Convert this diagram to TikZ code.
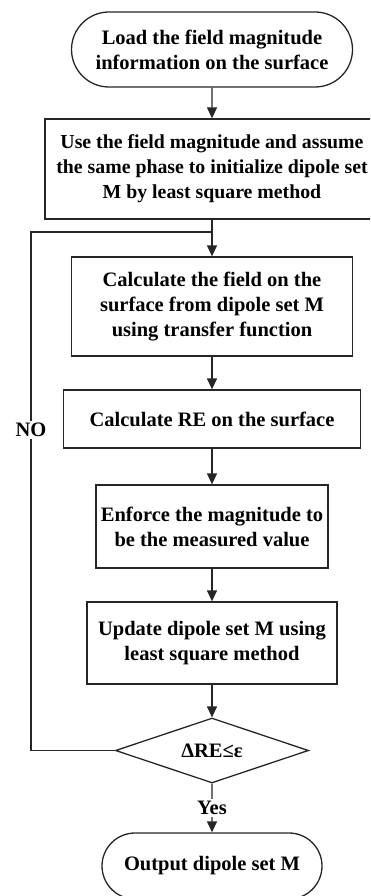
\documentclass[tikz,border=0pt]{standalone}
\usepackage{fontspec}
\setmainfont{Liberation Serif}
\usetikzlibrary{shapes.geometric,shapes.misc,arrows.meta}
\begin{document}
\begin{tikzpicture}[x=1pt,y=-1pt,
  every node/.style={font=\bfseries\fontsize{20.5}{25}\selectfont, align=center, inner sep=0pt, text=black},
  proc/.style={draw=black!85, rectangle, line width=1.3pt},
  term/.style={draw=black!85, rounded rectangle, line width=1.3pt},
  dec/.style={draw=black!85, diamond, aspect=3, line width=1.3pt},
  arr/.style={draw=black!85, line width=1.3pt, -{Triangle[length=11pt,width=10pt]}},
  ln/.style={draw=black!85, line width=1.3pt},
  lbl/.style={fill=white, inner sep=2pt}]
\useasboundingbox (0,0) rectangle (370,896);
\clip (0,0) rectangle (370,896);
\node[term, minimum width=281pt, minimum height=75pt] (start) at (212,49.5) {Load the field magnitude\\information on the surface};
\node[proc, minimum width=334pt, minimum height=100pt, font=\bfseries\fontsize{19.8}{25}\selectfont] (init) at (212,169) {Use the field magnitude and assume\\the same phase to initialize dipole set\\M by least square method};
\node[proc, minimum width=281pt, minimum height=99pt] (calc) at (212,306.5) {Calculate the field on the\\surface from dipole set M\\using transfer function};
\node[proc, minimum width=297pt, minimum height=58pt] (re) at (212,419) {Calculate RE on the surface};
\node[proc, minimum width=232pt, minimum height=83pt] (enf) at (212,526.5) {Enforce the magnitude to\\be the measured value};
\node[proc, minimum width=250pt, minimum height=82pt] (upd) at (212,643) {Update dipole set M using\\least square method};
\node[dec, minimum width=193pt, minimum height=65pt] (dia) at (212,750.5) {ΔRE≤ε};
\node[term, minimum width=220pt, minimum height=66pt] (out) at (212,866) {Output dipole set M};
\coordinate (join) at (212,232);
\coordinate (corner) at (31,232);
\draw[arr] (start) -- (init);
\draw[arr] (init) -- (calc);
\draw[arr] (calc) -- (re);
\draw[arr] (re) -- (enf);
\draw[arr] (enf) -- (upd);
\draw[arr] (upd) -- (dia);
\draw[arr] (dia) -- (out);
\draw[ln] (dia.west) -| (corner) -- (join);
\node[lbl] (no) at (31,430) {NO};
\node[lbl] (yes) at (212,808) {Yes};
\end{tikzpicture}
\end{document}
